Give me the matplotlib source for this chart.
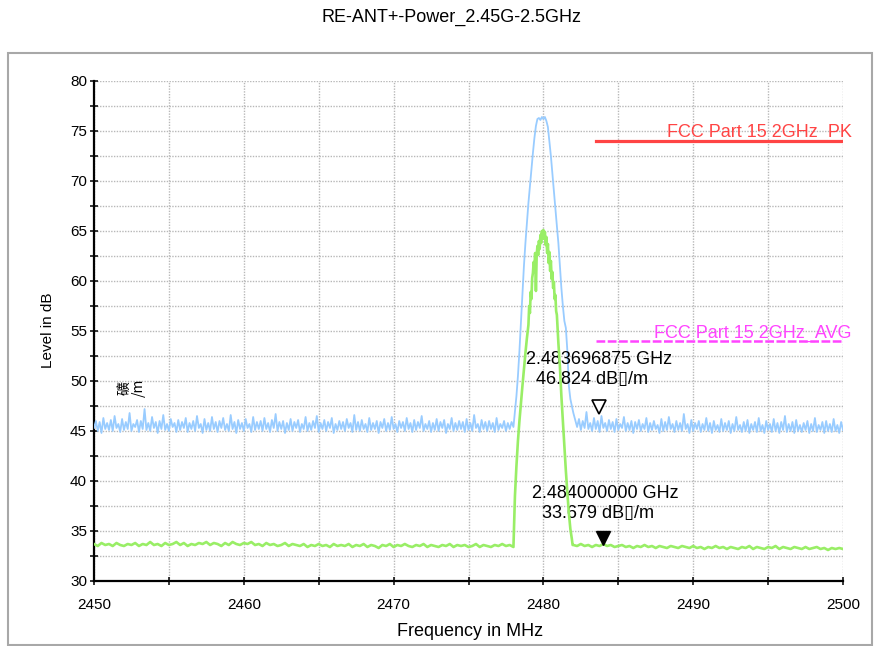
import numpy as np
import matplotlib
matplotlib.use("Agg")
import matplotlib.pyplot as plt
from matplotlib.ticker import MultipleLocator
from matplotlib.transforms import offset_copy
from matplotlib.patches import Rectangle

plt.rcParams['font.family'] = ['Liberation Sans', 'DejaVu Sans']

# ---- data ----
# peak trace (blue), noise floor left of the carrier, 0.125 MHz steps 2450..2478
pk_left_freq = np.arange(2450.0, 2478.001, 0.125)
pk_left = [
    45.3, 46.0, 45.0, 45.9, 44.8, 46.3, 45.2, 45.8, 45.1, 46.1, 45.0, 46.5, 45.3, 45.7, 44.9,
    46.2, 45.1, 45.9, 45.2, 46.8, 45.0, 45.7, 45.4, 46.1, 44.9, 46.0, 45.2, 47.2, 45.1, 45.8,
    45.0, 46.4, 45.3, 45.9, 44.8, 46.0, 45.2, 46.6, 45.1, 45.7, 45.0, 46.2, 45.4, 45.8, 44.9,
    46.1, 45.1, 45.9, 45.3, 46.3, 44.9, 45.8, 45.2, 46.0, 45.0, 46.5, 45.3, 45.7, 44.8, 46.2,
    45.1, 45.8, 45.0, 46.4, 45.2, 45.9, 44.9, 46.0, 45.3, 46.3, 45.1, 45.7, 45.0, 46.6, 45.2,
    45.9, 44.8, 46.1, 45.2, 45.8, 45.0, 46.2, 45.3, 45.7, 44.9, 46.4, 45.1, 45.9, 45.2, 46.0,
    45.0, 46.3, 45.2, 45.8, 44.9, 46.1, 45.3, 46.7, 45.0, 45.9, 45.2, 46.0, 44.8, 45.8, 45.1,
    46.2, 45.0, 45.9, 45.3, 46.1, 44.9, 45.7, 45.2, 46.4, 45.0, 45.8, 45.1, 46.0, 45.3, 46.5,
    44.9, 45.8, 45.2, 46.1, 45.0, 45.9, 45.3, 46.3, 44.8, 45.7, 45.1, 46.0, 45.2, 45.9, 45.0,
    46.2, 45.3, 45.8, 44.9, 46.6, 45.1, 45.9, 45.0, 46.1, 45.2, 45.7, 44.9, 46.3, 45.1, 45.8,
    45.2, 46.0, 44.8, 45.9, 45.3, 46.2, 45.0, 45.8, 45.1, 46.4, 45.2, 45.7, 44.9, 46.0, 45.3,
    45.9, 45.0, 46.3, 45.2, 45.8, 44.9, 46.1, 45.1, 45.9, 45.3, 46.5, 45.0, 45.7, 45.2, 46.0,
    44.9, 45.8, 45.1, 46.2, 45.0, 45.9, 45.3, 46.1, 44.8, 45.7, 45.2, 46.3, 45.0, 45.8, 45.1,
    46.0, 45.2, 45.9, 44.9, 46.2, 45.1, 45.8, 45.0, 46.6, 45.3, 45.7, 44.9, 46.1, 45.2, 45.9,
    45.0, 46.0, 45.2, 45.8, 44.9, 46.3, 45.1, 45.7, 45.3, 46.0, 45.0, 45.8, 45.2, 45.9, 45.4,
]
# carrier hump of the peak trace
pk_mid_freq = [2478.1, 2478.2, 2478.3, 2478.4, 2478.5, 2478.6, 2478.7, 2478.8,
               2478.9, 2479.0, 2479.1, 2479.2, 2479.3, 2479.4, 2479.5, 2479.6,
               2479.7, 2479.8, 2479.9, 2480.0, 2480.1, 2480.2, 2480.3, 2480.4,
               2480.5, 2480.6, 2480.7, 2480.8, 2480.9, 2481.0, 2481.1, 2481.2,
               2481.3, 2481.4, 2481.5, 2481.6, 2481.7, 2481.8, 2481.9, 2482.0]
pk_mid = [47.0, 48.5, 50.5, 53.0, 55.8, 58.5, 61.5, 63.8,
          65.8, 67.8, 69.5, 71.2, 72.8, 74.3, 75.5, 76.2,
          76.3, 76.1, 76.4, 76.2, 76.4, 76.0, 75.4, 74.0,
          72.5, 70.8, 69.0, 67.2, 65.5, 63.8, 61.5, 59.3,
          57.5, 56.0, 55.3, 53.0, 49.5, 48.2, 47.5, 46.8]
# noise floor right of the carrier, 2482.25..2500
pk_right_freq = np.arange(2482.25, 2500.001, 0.125)
pk_right = [
    45.4, 46.2, 45.1, 46.0, 45.3, 46.9, 45.2, 45.8, 45.0, 46.3, 45.2, 46.0, 44.9, 46.5, 45.3,
    45.8, 45.0, 46.1, 45.2, 45.9, 44.9, 46.2, 45.1, 45.7, 45.3, 46.4, 45.0, 45.8, 45.1, 46.0,
    44.8, 45.9, 45.2, 46.1, 45.0, 45.7, 45.2, 46.3, 44.9, 45.8, 45.1, 46.0, 45.2, 45.6, 44.8,
    46.2, 45.0, 45.9, 45.1, 46.4, 45.2, 45.7, 44.9, 46.0, 45.1, 45.8, 45.0, 46.7, 45.2, 45.7,
    44.8, 46.1, 45.0, 45.8, 45.2, 46.0, 44.9, 45.7, 45.1, 46.3, 45.0, 45.8, 44.8, 46.0, 45.1,
    45.6, 44.9, 46.2, 45.0, 45.8, 45.1, 46.0, 44.8, 45.7, 45.0, 46.4, 45.1, 45.6, 44.9, 45.9,
    45.0, 46.1, 44.8, 45.7, 45.1, 45.9, 44.9, 46.3, 45.0, 45.6, 44.8, 46.0, 45.1, 45.7, 44.9,
    46.2, 45.0, 45.8, 44.8, 45.9, 45.1, 46.5, 44.9, 45.7, 45.0, 45.9, 44.8, 46.1, 45.0, 45.6,
    44.9, 45.8, 45.1, 46.0, 44.8, 45.7, 45.0, 46.3, 44.9, 45.6, 45.1, 45.9, 44.8, 46.0, 45.0,
    45.7, 44.9, 46.2, 45.0, 45.6, 44.8, 45.9, 45.1,
]

# average trace (green)
av_left_freq = np.arange(2450.0, 2478.01, 0.25)
av_left = [
    33.7, 33.5, 33.8, 33.6, 33.7, 33.5, 33.8, 33.6, 33.5, 33.7,
    33.6, 33.8, 33.5, 33.7, 33.6, 33.9, 33.6, 33.7, 33.5, 33.8,
    33.6, 33.7, 33.9, 33.6, 33.8, 33.5, 33.7, 33.6, 33.8, 33.7,
    33.9, 33.6, 33.8, 33.7, 33.5, 33.8, 33.6, 33.9, 33.7, 33.6,
    33.8, 33.7, 33.9, 33.6, 33.7, 33.5, 33.8, 33.6, 33.7, 33.5,
    33.6, 33.8, 33.5, 33.7, 33.6, 33.5, 33.7, 33.4, 33.6, 33.5,
    33.7, 33.5, 33.6, 33.4, 33.7, 33.5, 33.6, 33.5, 33.7, 33.4,
    33.6, 33.5, 33.7, 33.4, 33.6, 33.5, 33.3, 33.6, 33.5, 33.7,
    33.4, 33.6, 33.5, 33.7, 33.5, 33.4, 33.6, 33.5, 33.7, 33.4,
    33.6, 33.5, 33.4, 33.6, 33.5, 33.7, 33.4, 33.6, 33.5, 33.6,
    33.4, 33.5, 33.7, 33.4, 33.6, 33.5, 33.4, 33.6, 33.5, 33.7,
    33.5, 33.6, 33.4,
]
av_mid_freq = [2478.05, 2478.1, 2478.2, 2478.3, 2478.4, 2478.5, 2478.6, 2478.7,
               2478.8, 2478.9, 2479.0, 2479.05, 2479.1, 2479.15, 2479.2, 2479.25,
               2479.3, 2479.35, 2479.4, 2479.45, 2479.5, 2479.55, 2479.6, 2479.65,
               2479.7, 2479.75, 2479.8, 2479.85, 2479.9, 2479.95, 2480.0, 2480.05,
               2480.1, 2480.15, 2480.2, 2480.25, 2480.3, 2480.35, 2480.4, 2480.45,
               2480.5, 2480.55, 2480.6, 2480.65, 2480.7, 2480.75, 2480.8, 2480.85,
               2480.9, 2480.95, 2481.0, 2481.1, 2481.2, 2481.3, 2481.4, 2481.5,
               2481.6, 2481.7, 2481.8, 2481.9, 2481.95]
av_mid = [36.0, 38.5, 41.5, 44.0, 46.0, 47.8, 49.5, 51.2,
          52.8, 54.3, 55.6, 57.5, 56.8, 58.9, 58.2, 60.3,
          60.8, 61.9, 61.2, 62.8, 59.0, 62.5, 63.5, 62.6,
          64.0, 63.2, 64.6, 63.8, 65.0, 64.3, 65.1, 64.2,
          64.9, 63.6, 64.4, 62.8, 63.7, 61.8, 62.9, 61.0,
          62.0, 60.2, 60.9, 59.3, 59.9, 58.2, 58.6, 57.0,
          56.6, 55.2, 53.8, 51.5, 48.5, 46.0, 43.5, 41.0,
          38.8, 36.8, 35.2, 34.2, 33.6]
av_right_freq = np.arange(2482.0, 2500.01, 0.25)
av_right = [
    33.6, 33.5, 33.7, 33.5, 33.6, 33.4, 33.6, 33.5, 33.7, 33.5,
    33.6, 33.4, 33.5, 33.6, 33.4, 33.5, 33.3, 33.5, 33.4, 33.6,
    33.4, 33.5, 33.3, 33.5, 33.4, 33.3, 33.5, 33.4, 33.3, 33.5,
    33.4, 33.3, 33.5, 33.3, 33.4, 33.2, 33.4, 33.3, 33.5, 33.3,
    33.4, 33.2, 33.4, 33.3, 33.2, 33.4, 33.3, 33.5, 33.2, 33.4,
    33.3, 33.2, 33.4, 33.3, 33.5, 33.2, 33.4, 33.3, 33.2, 33.4,
    33.3, 33.2, 33.4, 33.2, 33.3, 33.4, 33.2, 33.3, 33.1, 33.3,
    33.2, 33.3, 33.2,
]

# limit lines
limit_freq = [2483.5, 2500.0]
pk_limit = [74.0, 74.0]
av_limit = [54.0, 54.0]

# markers
mark_pk = (2483.696875, 46.824)
mark_av = (2484.0, 33.679)

pk_freq = np.concatenate([pk_left_freq, pk_mid_freq, pk_right_freq])
pk_level = np.concatenate([pk_left, pk_mid, pk_right])
av_freq = np.concatenate([av_left_freq, av_mid_freq, av_right_freq])
av_level = np.concatenate([av_left, av_mid, av_right])

fig = plt.figure(figsize=(8.74, 6.46), dpi=100)
ax = fig.add_axes([94 / 874, 1 - 581 / 646, 749 / 874, 500 / 646])

# outer frame
fig.patches.append(Rectangle((8 / 874, 1.5 / 646), 864 / 874, 592 / 646,
                             transform=fig.transFigure, fill=False,
                             edgecolor='#a8a8a8', lw=1.5))

ax.plot(pk_freq, pk_level, color='#99ccff', lw=1.3, zorder=3)
ax.plot(av_freq, av_level, color='#99ee66', lw=1.9, zorder=4)

ax.plot(limit_freq, pk_limit, color='#ff4444', lw=2.3, zorder=5)
ax.plot(limit_freq, av_limit, color='#ff44ff', lw=1.8, ls=(0, (3.5, 1)), zorder=5)
ax.text(2500.6, 74.45, 'FCC Part 15 2GHz_PK', color='#ff4444', fontsize=13,
        ha='right', va='baseline', clip_on=False)
ax.text(2500.6, 54.35, 'FCC Part 15 2GHz_AVG', color='#ff44ff', fontsize=13,
        ha='right', va='baseline', clip_on=False)

up = offset_copy(ax.transData, fig=fig, x=0, y=4.5, units='points')
ax.plot(*mark_pk, marker='v', ms=9.5, mfc='white', mec='black', mew=1.2,
        transform=up, zorder=6)
ax.plot(*mark_av, marker='v', ms=9.5, mfc='black', mec='black',
        transform=up, zorder=6)

ax.text(2478.84, 52.1, '2.483696875 GHz', fontsize=13, va='center')
ax.text(2479.51, 50.1, '46.824 dB\u25af/m', fontsize=13, va='center')
ax.text(2479.21, 38.8, '2.484000000 GHz', fontsize=13, va='center')
ax.text(2479.88, 36.8, '33.679 dB\u25af/m', fontsize=13, va='center')

ax.text(2452.5, 49.3, '\u7926\n/m', fontsize=10, rotation=90,
        ha='center', va='center', linespacing=1.0,
        family=['Noto Sans CJK SC', 'DejaVu Sans'])

ax.set_xlim(2450, 2500)
ax.set_ylim(30, 80)
ax.xaxis.set_major_locator(MultipleLocator(10))
ax.xaxis.set_minor_locator(MultipleLocator(5))
ax.yaxis.set_major_locator(MultipleLocator(5))
ax.yaxis.set_minor_locator(MultipleLocator(2.5))
ax.grid(which='both', color='#b8b8b8', ls=(0, (1, 1)), lw=1.0, zorder=1)

for side in ['top', 'right']:
    ax.spines[side].set_visible(False)
for side in ['left', 'bottom']:
    ax.spines[side].set_linewidth(1.6)
ax.tick_params(which='both', direction='inout', length=6, width=1.1,
               labelsize=11)
ax.tick_params(axis='y', pad=2)
ax.tick_params(axis='x', pad=9)

fig.text(451.5 / 874, 1 - 17 / 646, 'RE-ANT+-Power_2.45G-2.5GHz', fontsize=13,
         ha='center', va='center')
fig.text(470 / 874, 1 - 632 / 646, 'Frequency in MHz', fontsize=13,
         ha='center', va='center')
fig.text(48 / 874, 1 - 330 / 646, 'Level in dB', fontsize=11, rotation=90,
         ha='center', va='center')

fig.savefig('out.png', dpi=100)
